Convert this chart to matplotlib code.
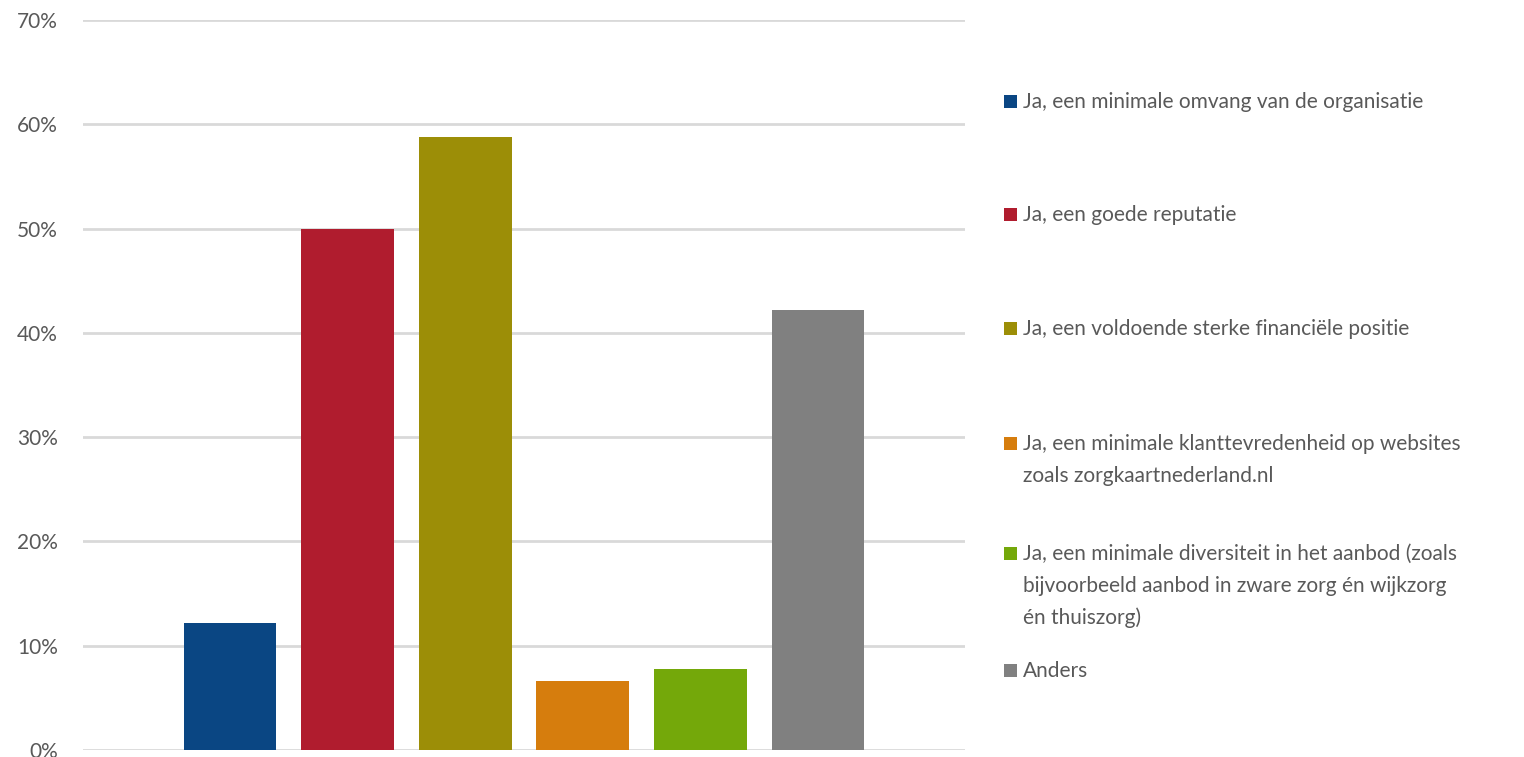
import matplotlib.pyplot as plt
from matplotlib.patches import Rectangle
from matplotlib.ticker import FuncFormatter

labels = [
    "Ja, een minimale omvang van de organisatie",
    "Ja, een goede reputatie",
    "Ja, een voldoende sterke financiële positie",
    "Ja, een minimale klanttevredenheid op websites\nzoals zorgkaartnederland.nl",
    "Ja, een minimale diversiteit in het aanbod (zoals\nbijvoorbeeld aanbod in zware zorg én wijkzorg\nén thuiszorg)",
    "Anders",
]
values = [12.2, 50.0, 58.8, 6.6, 7.8, 42.2]
colors = ["#0A4683", "#B01C2E", "#9C8E07", "#D67D0D", "#74A80A", "#808080"]
yticks = [0, 10, 20, 30, 40, 50, 60, 70]

plt.rcParams['font.family'] = ['Lato', 'DejaVu Sans']
text_color = "#595959"

fig = plt.figure(figsize=(15.24, 7.57), dpi=100)
ax = fig.add_axes([83 / 1524, 1 - 750 / 757, 882 / 1524, 730 / 757])

xs = range(len(values))
ax.bar(xs, values, width=0.79, color=colors, zorder=3)

ax.set_xlim(-1.25, 6.25)
ax.set_ylim(0, 70)
ax.set_yticks(yticks)
ax.yaxis.set_major_formatter(FuncFormatter(lambda v, p: f"{v:.0f}%"))
ax.set_xticks([])
ax.grid(axis='y', color="#D9D9D9", linewidth=2, zorder=0)
ax.tick_params(axis='y', length=0, pad=18, labelsize=15, labelcolor=text_color)
for s in ax.spines.values():
    s.set_visible(False)

# legend drawn by hand, Excel-style uneven spacing
legend_y = [101, 214, 328, 443, 553, 670]
for lab, col, py in zip(labels, colors, legend_y):
    fig.patches.append(Rectangle((1004 / 1524, 1 - (py + 7) / 757), 13 / 1524, 13 / 757,
                                 transform=fig.transFigure, facecolor=col, edgecolor='none'))
    fig.text(1023 / 1524, 1 - (py - 9) / 757, lab, ha='left', va='top',
             fontsize=15, color=text_color, linespacing=1.73)

fig.savefig("out.png", dpi=100)
